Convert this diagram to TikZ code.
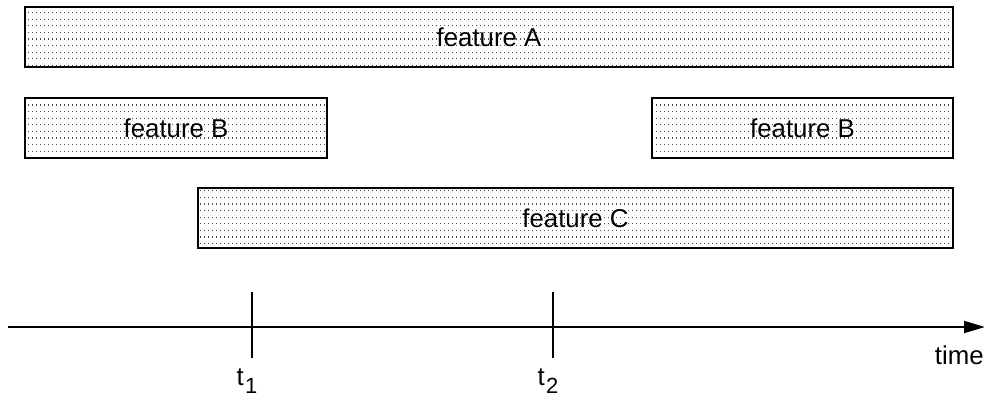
\documentclass[tikz,border=0pt]{standalone}
\usepackage{fontspec}
\setmainfont{Liberation Sans}
\usetikzlibrary{patterns,arrows.meta}

\pgfdeclarepatternformonly{featdots}{\pgfqpoint{-1pt}{-1pt}}{\pgfqpoint{3pt}{4pt}}{\pgfqpoint{2pt}{3.3pt}}
{\pgfpathrectangle{\pgfqpoint{0pt}{0pt}}{\pgfqpoint{0.6pt}{0.6pt}}\pgfusepath{fill}}

\newcommand{\tsub}[1]{t\kern0.6pt\raisebox{-0.55ex}{\fontsize{11}{12}\selectfont #1}}

\begin{document}
\begin{tikzpicture}[x=0.5pt,y=-0.5pt,
    feature/.style={draw,line width=0.75pt,pattern=featdots,pattern color=black!70,
        minimum height=30pt,inner sep=0pt,font=\fontsize{12.9}{15}\selectfont},
    tick/.style={line width=0.75pt},
    lbl/.style={font=\fontsize{12.9}{15}\selectfont,inner sep=0pt}]
    \useasboundingbox (0,0) rectangle (984,396);
    \node[feature,minimum width=464pt] (featA)  at (489,37)    {feature A};
    \node[feature,minimum width=151pt] (featB1) at (176,128)   {feature B};
    \node[feature,minimum width=150.5pt] (featB2) at (802.5,128) {feature B};
    \node[feature,minimum width=377.5pt] (featC)  at (575.5,218) {feature C};

    % time axis
    \coordinate (ax0) at (8,327);
    \coordinate (ax1) at (985,327);
    \draw[line width=0.9pt,-{Triangle[length=10.5pt,width=6pt]}] (ax0) -- (ax1);
    \node[lbl,anchor=east] (time) at (984,355) {time};

    \coordinate (t1top) at (252,292);
    \coordinate (t1bot) at (252,358);
    \coordinate (t2top) at (553,292);
    \coordinate (t2bot) at (553,358);
    \draw[tick] (t1top) -- (t1bot);
    \draw[tick] (t2top) -- (t2bot);
    \node[lbl] (lt1) at (247,381) {\tsub{1}};
    \node[lbl] (lt2) at (548,381) {\tsub{2}};
\end{tikzpicture}
\end{document}
